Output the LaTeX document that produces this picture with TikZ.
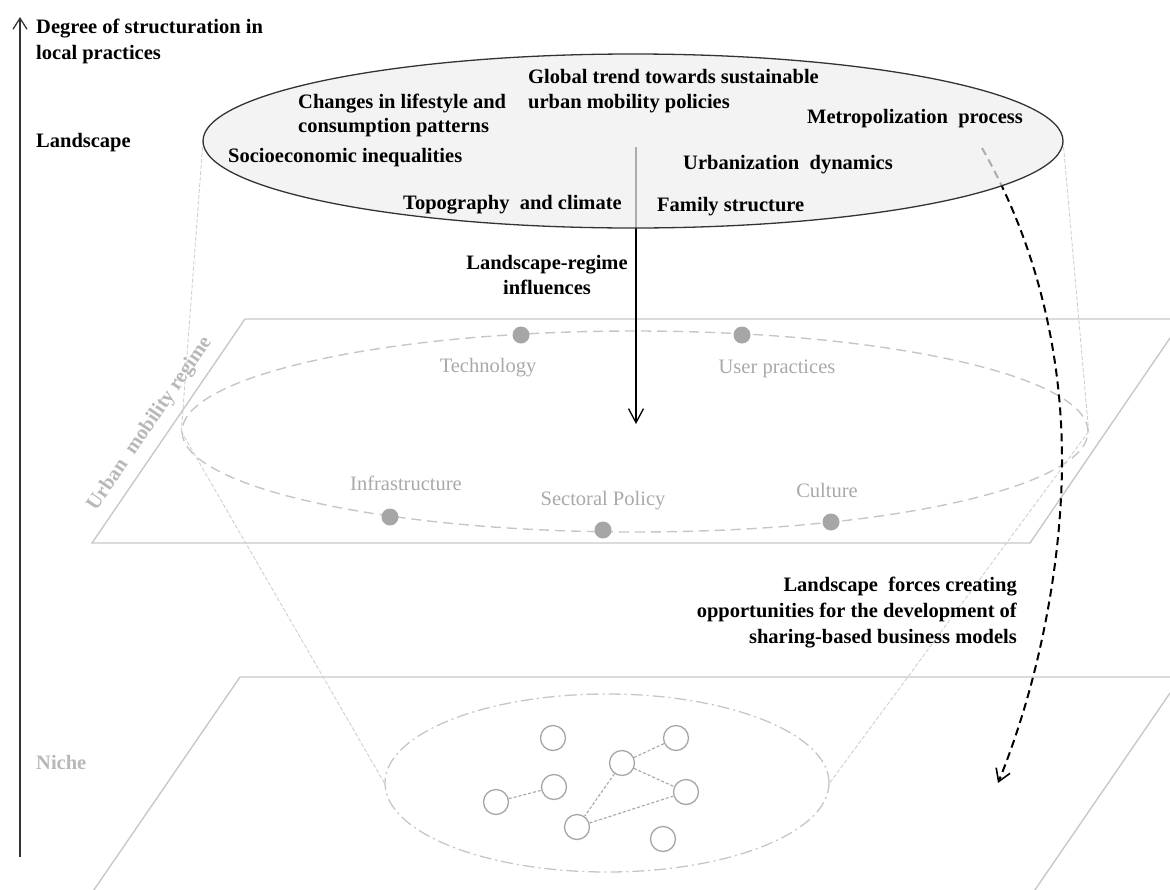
\documentclass[tikz,border=0pt]{standalone}
\usepackage{fontspec}
\setmainfont{Liberation Serif}
\usetikzlibrary{arrows.meta,shapes.geometric}

\definecolor{inkdark}{HTML}{333333}
\definecolor{planeline}{HTML}{C8C8C8}
\definecolor{conegray}{HTML}{CFCFCF}
\definecolor{regimegray}{HTML}{C6C6C6}
\definecolor{dotgray}{HTML}{A6A6A6}
\definecolor{labelgray}{HTML}{A9A9A9}
\definecolor{titlegray}{HTML}{B8B8B8}
\definecolor{landfill}{HTML}{EFEFEF}

\begin{document}
\begin{tikzpicture}[x=1pt,y=-1pt,
  boldtext/.style={font=\fontsize{20.5}{24.5}\selectfont\bfseries, inner sep=0pt, text=black},
  graylabel/.style={font=\fontsize{20.5}{24.5}\selectfont, inner sep=0pt, text=labelgray},
  graytitle/.style={font=\fontsize{20.5}{24.5}\selectfont\bfseries, inner sep=0pt, text=titlegray},
  plane/.style={draw=planeline, line width=1.4pt},
  cone/.style={draw=conegray, line width=0.9pt, dash pattern=on 4pt off 2pt},
  regimering/.style={ellipse, draw=regimegray, line width=1.4pt, dash pattern=on 10pt off 6pt,
    minimum width=906pt, minimum height=201pt, inner sep=0pt},
  nichering/.style={ellipse, draw=regimegray, line width=1.3pt,
    dash pattern=on 12pt off 4pt on 2pt off 4pt,
    minimum width=444pt, minimum height=178pt, inner sep=0pt},
  landring/.style={ellipse, draw=inkdark, line width=1.3pt, fill=landfill, fill opacity=0.72,
    minimum width=860pt, minimum height=174pt, inner sep=0pt},
  element/.style={circle, fill=dotgray, inner sep=0pt, minimum size=17pt},
  actor/.style={circle, draw=dotgray, fill=white, line width=1.3pt, inner sep=0pt, minimum size=25pt},
  link/.style={draw=dotgray, line width=1.1pt, dash pattern=on 3pt off 2pt},
  barb/.style={-{Straight Barb[length=14pt,width=15pt,line width=1.3pt]}}
]
\clip (0,0) rectangle (1170,889);

% vertical axis
\coordinate (axis-foot) at (20,857);
\coordinate (axis-head) at (20,17);
\draw[inkdark, line width=1.4pt, -{Straight Barb[length=11pt,width=14pt,line width=1.3pt]}] (axis-foot) -- (axis-head);

% regime and niche planes
\draw[plane] (245,319) -- (1183,319) -- (1030,543) -- (92,543) -- cycle;
\draw[plane] (240,677) -- (1181,677) -- (1028,900) -- (87,900) -- cycle;

% landscape ellipse ends
\coordinate (land-c) at (633,141);
\coordinate (land-w) at (203,141);
\coordinate (land-e) at (1063,141);

% regime ring with its elements
\node[regimering] (regime) at (635,431.5) {};
\node[nichering] (niche) at (607,783) {};

\draw[cone] (land-w) -- (regime.west);
\draw[cone] (land-e) -- (regime.east);
\draw[cone] (regime.west) -- (niche.west);
\draw[cone] (regime.east) -- (niche.east);

\node[element] (tech) at (521,335) {};
\node[element] (user) at (742,335) {};
\node[element] (infra) at (390,517) {};
\node[element] (policy) at (603,530) {};
\node[element] (culture) at (831,522) {};

\node[graylabel, anchor=base] (tech-l) at (488,372) {Technology};
\node[graylabel, anchor=base] (user-l) at (777,373) {User practices};
\node[graylabel, anchor=base] (infra-l) at (406,490) {Infrastructure};
\node[graylabel, anchor=base] (policy-l) at (603,505) {Sectoral Policy};
\node[graylabel, anchor=base] (culture-l) at (827,497) {Culture};

% niche actors and their links
\node[actor] (a1) at (553,738) {};
\node[actor] (a2) at (676,738) {};
\node[actor] (a3) at (622,763) {};
\node[actor] (a4) at (554,787) {};
\node[actor] (a5) at (686,792) {};
\node[actor] (a6) at (496,802) {};
\node[actor] (a7) at (577,827) {};
\node[actor] (a8) at (663,839) {};
\draw[link] (a6) -- (a4);
\draw[link] (a3) -- (a2);
\draw[link] (a3) -- (a5);
\draw[link] (a3) -- (a7);
\draw[link] (a7) -- (a5);

% influence arrows
\coordinate (lr-start) at (636,147);
\coordinate (lr-end) at (636,424);
\draw[black, line width=1.3pt, barb] (lr-start) -- (lr-end);

\coordinate (lf-start) at (982,148);
\coordinate (lf-end) at (998,783);
\draw[black, line width=2pt, dash pattern=on 8pt off 5pt,
  -{Straight Barb[length=12pt,width=15pt,line width=1.6pt]}]
  (lf-start) .. controls (1040,250) and (1062,360) .. (1062,460)
  .. controls (1062,560) and (1040,680) .. (lf-end);

% landscape ellipse
\node[landring] (land) at (land-c) {};

% landscape developments
\node[boldtext, anchor=base west] (g1) at (528,83) {Global trend towards sustainable};
\node[boldtext, anchor=base west] (g2) at (528,108) {urban mobility policies};
\node[boldtext, anchor=base west] (c1) at (298,108) {Changes in lifestyle and};
\node[boldtext, anchor=base west] (c2) at (298,132) {consumption patterns};
\node[boldtext, anchor=base west] (metro) at (807,123) {Metropolization\ \ process};
\node[boldtext, anchor=base west] (socio) at (228,162) {Socioeconomic inequalities};
\node[boldtext, anchor=base west] (urban) at (683,169) {Urbanization\ \ dynamics};
\node[boldtext, anchor=base west] (topo) at (403,209) {Topography\ \ and climate};
\node[boldtext, anchor=base west] (family) at (657,211) {Family structure};

% level labels
\node[boldtext, anchor=base west] (deg1) at (36,33) {Degree of structuration in};
\node[boldtext, anchor=base west] (deg2) at (36,59) {local practices};
\node[boldtext, anchor=base west] (lvl-land) at (36,147) {Landscape};
\node[graytitle, anchor=base west] (lvl-niche) at (36,769) {Niche};
\node[graytitle, rotate=55.7] (lvl-regime) at (150,424) {Urban\ \ mobility regime};

% arrow labels
\node[boldtext, anchor=base] (lr1) at (547,269) {Landscape-regime};
\node[boldtext, anchor=base] (lr2) at (547,294) {influences};
\node[boldtext, anchor=base east] (lf1) at (1017,591) {Landscape\ \ forces creating};
\node[boldtext, anchor=base east] (lf2) at (1017,617) {opportunities for the development of};
\node[boldtext, anchor=base east] (lf3) at (1017,643) {sharing-based business models};
\end{tikzpicture}
\end{document}
